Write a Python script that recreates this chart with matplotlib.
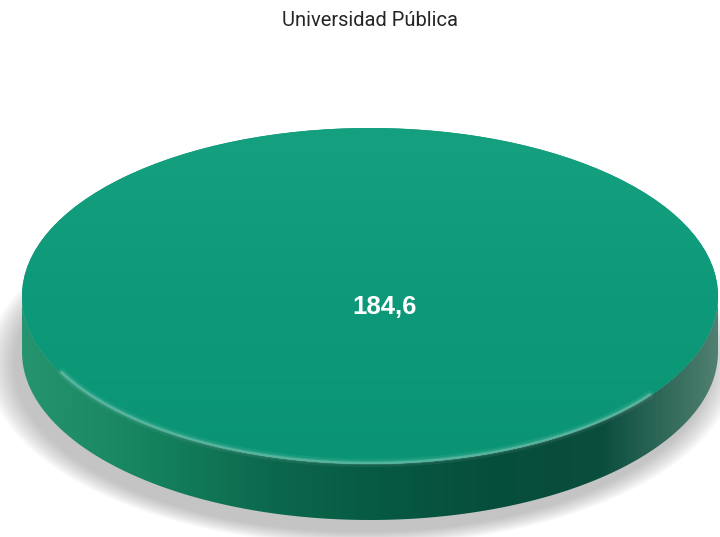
import numpy as np
import matplotlib
matplotlib.use("Agg")
import matplotlib.pyplot as plt
from matplotlib.patches import Ellipse, Polygon
from matplotlib.colors import LinearSegmentedColormap

titulo = "Universidad Pública"
categorias = ["Universidad Pública"]
valores = [184.6]

# geometria del disco (pixeles)
cx, cy = 370, 296
a, b = 348, 168
prof = 56

fig = plt.figure(figsize=(7.2, 5.37), dpi=100)
ax = fig.add_axes([0, 0, 1, 1])
ax.set_xlim(0, 720)
ax.set_ylim(537, 0)
ax.axis("off")

# sombra difusa
for i in range(14):
    s = 1 + i * 0.006
    sh = Ellipse((cx - 8, cy + prof + 12), 2 * a * s, 2 * b * s,
                 color="#808080", alpha=0.04, lw=0, zorder=1)
    ax.add_patch(sh)

# lado del cilindro (una sola porcion: el total)
total = sum(valores)
t = np.linspace(0, np.pi, 300)
xs = cx + a * np.cos(t)
ys = cy + b * np.sin(t)
pts = np.vstack([np.column_stack([xs, ys]),
                 np.column_stack([xs[::-1], ys[::-1] + prof])])
lado = Polygon(pts, closed=True, facecolor="none", edgecolor="none", zorder=2)
ax.add_patch(lado)
cmap_lado = LinearSegmentedColormap.from_list(
    "lado", ["#25946f", "#168560", "#0d6b4f", "#075a43", "#064f3c", "#0a4d3d", "#4f7f70"])
grad = np.linspace(0, 1, 400).reshape(1, -1)
im = ax.imshow(grad, cmap=cmap_lado, extent=[cx - a, cx + a, cy + b + prof, cy],
               aspect="auto", zorder=2)
im.set_clip_path(lado)

# cara superior
top = Ellipse((cx, cy), 2 * a, 2 * b, facecolor="#0e9a7a", edgecolor="none", zorder=3)
ax.add_patch(top)
cmap_top = LinearSegmentedColormap.from_list("top", ["#15a07f", "#0e9a7a", "#0a9474"])
g2 = np.linspace(0, 1, 200).reshape(-1, 1) * np.ones((1, 200))
im2 = ax.imshow(g2, cmap=cmap_top, extent=[cx - a, cx + a, cy + b, cy - b],
                aspect="auto", zorder=3)
im2.set_clip_path(top)

# brillo del borde
tb = np.linspace(0.2 * np.pi, 0.85 * np.pi, 200)
for w, al in [(6, 0.06), (3, 0.1), (1.5, 0.18)]:
    ax.plot(cx + (a - 2) * np.cos(tb), cy + (b - 2) * np.sin(tb) + 1,
            color="white", lw=w, alpha=al, zorder=4, solid_capstyle="round")

ax.text(370, 21, titulo, ha="center", va="center", fontsize=14.5,
        color="#262626", family="Roboto")
ax.text(cx + 15, cy + 11, f"{valores[0]:.1f}".replace(".", ","), ha="center",
        va="center", fontsize=18.5, color="white", fontweight="bold",
        family="Liberation Sans", zorder=5)

fig.savefig("out.png", dpi=100)
